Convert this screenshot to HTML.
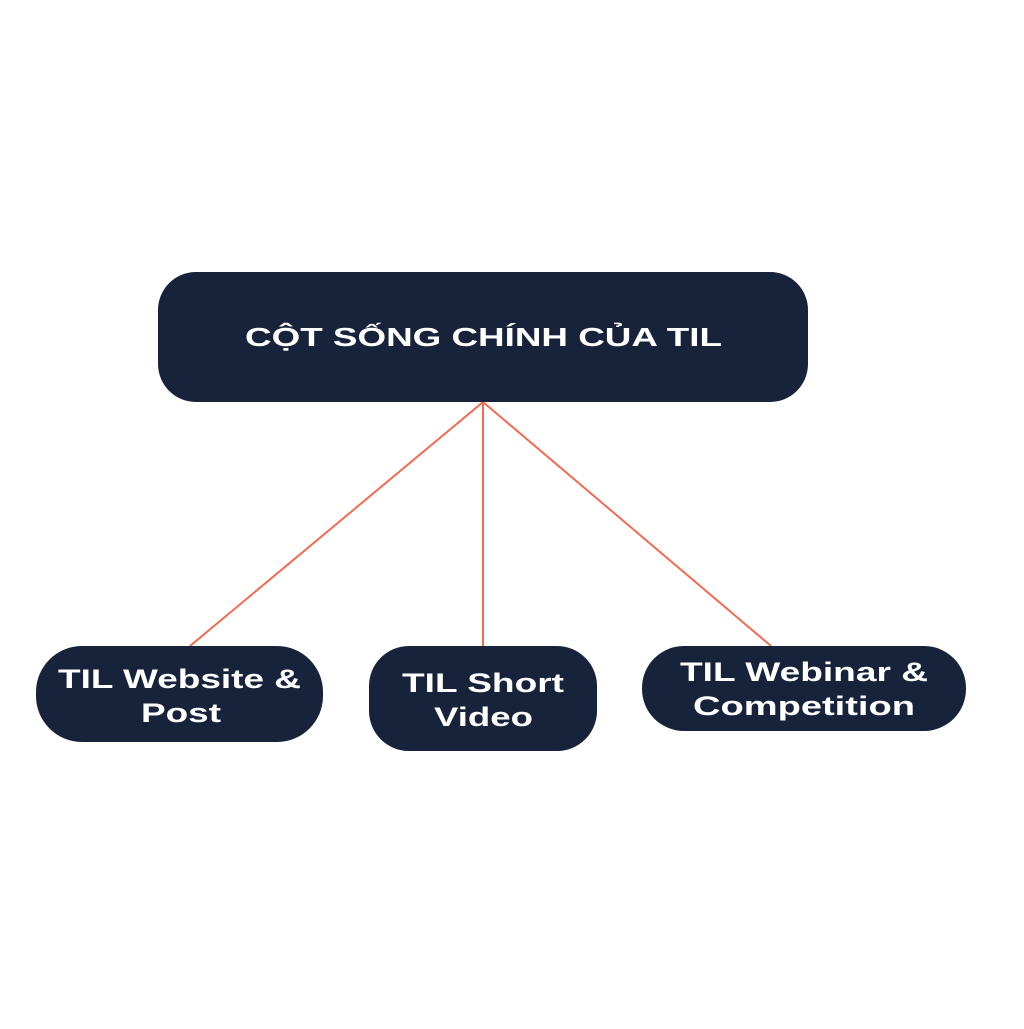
<!DOCTYPE html>
<html><head><meta charset="utf-8"><style>html,body{margin:0;padding:0;background:#fff}</style></head>
<body>
<svg width="1024" height="1024" viewBox="0 0 1024 1024" xmlns="http://www.w3.org/2000/svg" font-family="Liberation Sans, DejaVu Sans, sans-serif" font-weight="bold" fill="#fff">
<rect width="1024" height="1024" fill="#fff"/>
<g stroke="#f26b4f" stroke-width="2">
<line x1="483" y1="402" x2="190" y2="646"/>
<line x1="483" y1="402" x2="483" y2="646"/>
<line x1="483" y1="402" x2="771" y2="646"/>
</g>
<g fill="#17223b">
<rect x="158" y="272" width="650" height="130" rx="38"/>
<rect x="36" y="646" width="287" height="96" rx="46"/>
<rect x="369" y="646" width="228" height="105" rx="40"/>
<rect x="642" y="646" width="324" height="85" rx="42"/>
</g>
<g font-size="26">
<text x="245" y="346" textLength="477" lengthAdjust="spacingAndGlyphs">CỘT SỐNG CHÍNH CỦA TIL</text>
</g>
<g font-size="27">
<text x="58" y="688" textLength="243" lengthAdjust="spacingAndGlyphs">TIL Website &amp;</text>
<text x="141" y="722" textLength="80" lengthAdjust="spacingAndGlyphs">Post</text>
<text x="402" y="692" textLength="162" lengthAdjust="spacingAndGlyphs">TIL Short</text>
<text x="434" y="726" textLength="99" lengthAdjust="spacingAndGlyphs">Video</text>
<text x="680" y="681" textLength="248" lengthAdjust="spacingAndGlyphs">TIL Webinar &amp;</text>
<text x="693" y="715" textLength="222" lengthAdjust="spacingAndGlyphs">Competition</text>
</g>
</svg>
</body></html>
